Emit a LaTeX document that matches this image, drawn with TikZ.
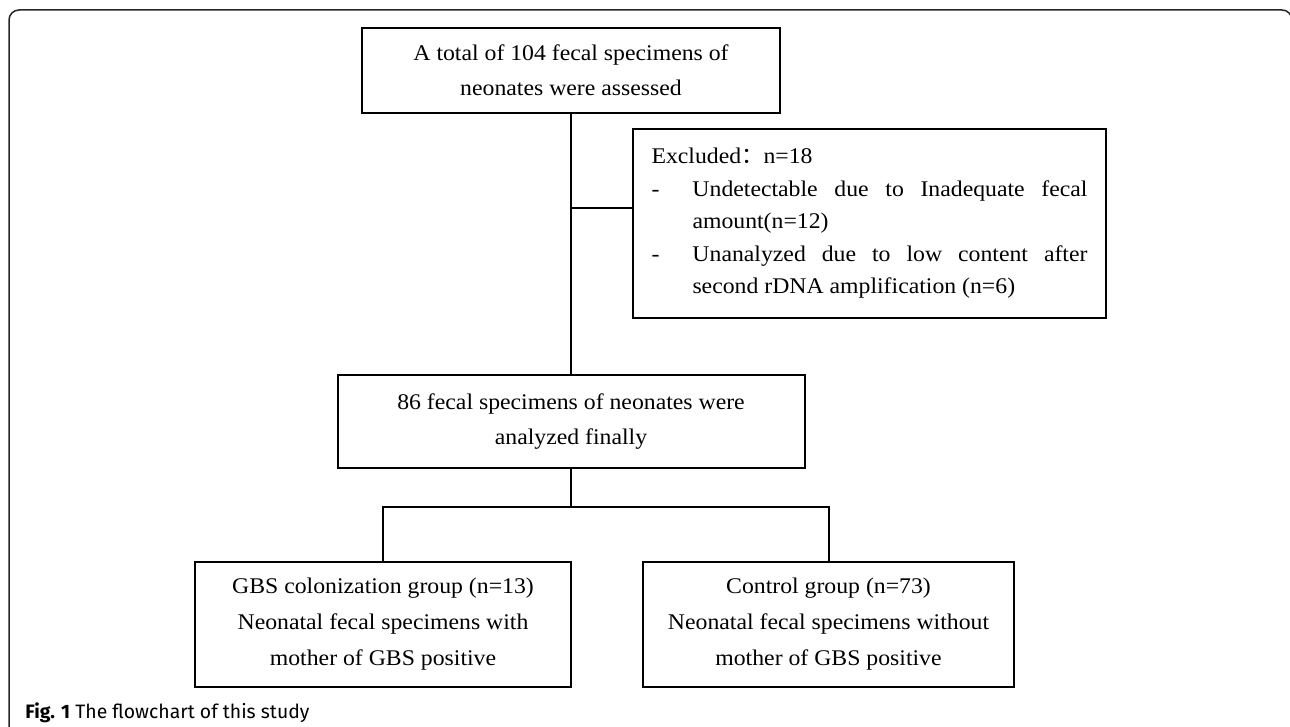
\documentclass[tikz,border=0pt]{standalone}
\usepackage{fontspec}
\setmainfont{Liberation Serif}[FakeStretch=1.06]
\newfontfamily\capfont{Fira Sans}
\newfontfamily\cjk{Noto Sans CJK SC}
\usetikzlibrary{positioning}

\begin{document}
\begin{tikzpicture}[
    x=0.5pt, y=-0.5pt,
    font=\fontsize{11.2}{17.5}\selectfont,
    box/.style={rectangle, draw, line width=1pt, align=center, inner sep=0pt},
    link/.style={line width=1pt},
    frame/.style={line width=0.75pt, draw=black!85, rounded corners=5pt}
]
\useasboundingbox (0,0) rectangle (1290,727);

% outer frame
\draw[frame] (9,740) -- (9,10) -- (1292,10) -- (1292,740);

% Nodes (top to bottom)
\node[box, minimum width=209pt, minimum height=42.5pt] (total) at (571,70.5) {A total of 104 fecal specimens of\\neonates were assessed};
\node[box, minimum width=233.5pt, minimum height=46.5pt, below=130pt of total] (final) {86 fecal specimens of neonates were\\analyzed finally};
\node[box, text width=218pt, inner xsep=9.25pt, minimum height=94.5pt, align=justify,
      font=\fontsize{11.2}{16.25}\selectfont] (excl) at (869.5,223.5)
      {\setlength{\parindent}{0pt}Excluded{\cjk ：}n=18\par
       \hangindent=20.5pt\hangafter=1\makebox[20.5pt][l]{-}Undetectable due to Inadequate fecal\linebreak amount(n=12)\par
       \hangindent=20.5pt\hangafter=1\makebox[20.5pt][l]{-}Unanalyzed due to low content after\linebreak second rDNA amplification (n=6)\par};
\node[box, minimum width=188pt, minimum height=62.5pt, font=\fontsize{11.2}{18}\selectfont] (gbs) at (383,624.5) {GBS colonization group (n=13)\\Neonatal fecal specimens with\\mother of GBS positive};
\node[box, minimum width=185.5pt, minimum height=62.5pt, font=\fontsize{11.2}{18}\selectfont] (control) at (828.5,624.5) {Control group (n=73)\\Neonatal fecal specimens without\\mother of GBS positive};

% Connectors
\coordinate (branch) at (571,208);
\coordinate (split) at (571,507);
\draw[link] (total.south) -- (final.north);
\draw[link] (branch) -- (branch -| excl.west);
\draw[link] (final.south) -- (split);
\draw[link] (gbs.north) -- (gbs.north |- split) -- (control.north |- split) -- (control.north);

% Caption
\node[anchor=base west, inner sep=0pt, font=\capfont\fontsize{9.7}{11}\selectfont] (caption) at (25,718) {\textbf{Fig. 1} The flowchart of this study};

\end{tikzpicture}
\end{document}
